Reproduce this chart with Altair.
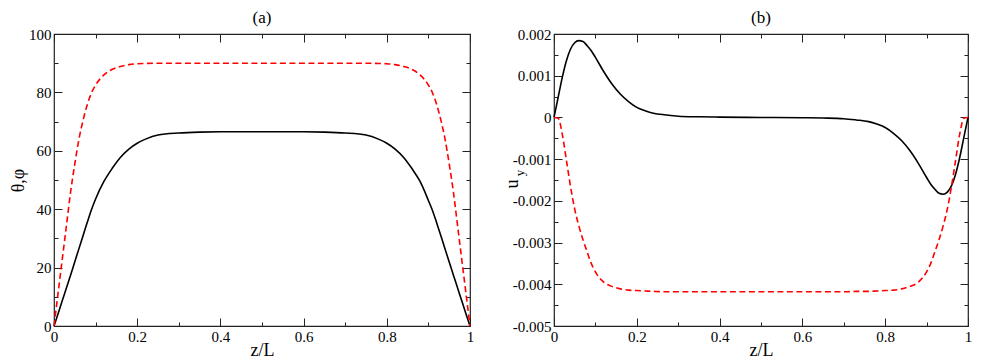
import altair as alt
import pandas as pd

# ---------- data ----------
# panel (a)
z_a = [0, 0.01, 0.02, 0.03, 0.04, 0.05, 0.06, 0.07, 0.08, 0.09, 0.10, 0.12, 0.14, 0.16,
       0.18, 0.20, 0.22, 0.25, 0.30, 0.35, 0.40, 0.50, 0.60, 0.65, 0.70, 0.75, 0.78,
       0.80, 0.82, 0.84, 0.86, 0.88, 0.90, 0.91, 0.92, 0.93, 0.94, 0.95, 0.96, 0.97,
       0.98, 0.99, 1.0]
theta = [0, 4.3, 8.7, 13.1, 17.5, 22.0, 26.5, 31.0, 35.5, 39.8, 43.5, 49.5, 54.0, 57.8,
         60.6, 62.6, 64.0, 65.4, 66.1, 66.4, 66.5, 66.5, 66.5, 66.4, 66.1, 65.4, 64.0,
         62.6, 60.6, 57.8, 54.0, 49.5, 43.0, 39.5, 35.3, 30.9, 26.4, 21.9, 17.5, 13.1,
         8.7, 4.3, 0]
phi = [0, 11.5, 23.0, 34.5, 46.0, 55.5, 64.0, 70.5, 75.8, 79.8, 82.5, 86.0, 87.9, 88.9,
       89.5, 89.8, 89.9, 90.0, 90.0, 90.0, 90.0, 90.0, 90.0, 90.0, 90.0, 90.0, 89.9,
       89.8, 89.5, 88.9, 87.9, 86.0, 82.5, 79.8, 75.8, 70.5, 64.0, 55.5, 46.0, 34.5,
       23.0, 11.5, 0]

# panel (b)
z_b = [0, 0.01, 0.02, 0.03, 0.04, 0.05, 0.06, 0.07, 0.08, 0.09, 0.10, 0.12, 0.14, 0.16,
       0.18, 0.20, 0.22, 0.24, 0.27, 0.30, 0.35, 0.40, 0.50, 0.60, 0.65, 0.70, 0.73,
       0.76, 0.78, 0.80, 0.82, 0.84, 0.86, 0.88, 0.90, 0.91, 0.92, 0.93, 0.94, 0.95,
       0.96, 0.97, 0.98, 0.99, 1.0]
u_black = [0, 0.00048, 0.00096, 0.00136, 0.00164, 0.00179, 0.00184, 0.00182, 0.00172,
           0.00160, 0.00144, 0.00110, 0.00080, 0.00056, 0.00038, 0.00024, 0.00016,
           0.00010, 0.00006, 0.00003, 0.000015, 0.000008, 0.0, -0.000008, -0.000015,
           -0.00003, -0.00006, -0.00010, -0.00016, -0.00024, -0.00038, -0.00056,
           -0.00080, -0.00110, -0.00144, -0.00160, -0.00172, -0.00182, -0.00184,
           -0.00179, -0.00164, -0.00136, -0.00096, -0.00048, 0]
u_red = [0, -0.00002, -0.00040, -0.00103, -0.00166, -0.00220, -0.00260, -0.00293,
         -0.00322, -0.00350, -0.00370, -0.00395, -0.00405, -0.00411, -0.00414, -0.00415,
         -0.00416, -0.00417, -0.00418, -0.00418, -0.00418, -0.00418, -0.00418, -0.00418,
         -0.00418, -0.00418, -0.00417, -0.00417, -0.00416, -0.00415, -0.00414, -0.00411,
         -0.00405, -0.00395, -0.00370, -0.00350, -0.00322, -0.00293, -0.00260, -0.00220,
         -0.00166, -0.00103, -0.00040, -0.00002, 0]

x_major = [0, 0.2, 0.4, 0.6, 0.8, 1]
x_minor = [0.1, 0.3, 0.5, 0.7, 0.9]
ya_major = [0, 20, 40, 60, 80, 100]
ya_minor = [10, 30, 50, 70, 90]
yb_major = [-0.005, -0.004, -0.003, -0.002, -0.001, 0, 0.001, 0.002]
yb_minor = [-0.0045, -0.0035, -0.0025, -0.0015, -0.0005, 0.0005, 0.0015]
panel_titles = ["(a)", "(b)"]

df_a = pd.DataFrame({"z": z_a, "theta": theta, "phi": phi})
df_b = pd.DataFrame({"z": z_b, "black": u_black, "red": u_red})

FONT = "Liberation Serif"
TICK = "#222222"
LBL = "'' + datum.value"
H = 292


def tick_axis(orient, values, size):
    return alt.Axis(orient=orient, values=values, tickSize=size, offset=-size,
                    labels=False, domain=False, grid=False, title=None,
                    tickColor=TICK, tickWidth=1, minExtent=0, maxExtent=0)


def label_axis(orient, values, title, pad, **kw):
    return alt.Axis(orient=orient, values=values, tickSize=8, offset=-8,
                    labelPadding=pad, domain=False, grid=False, title=title,
                    tickColor=TICK, tickWidth=1, labelExpr=LBL,
                    labelFont=FONT, labelFontSize=15, labelColor="black",
                    titleFont=FONT, titleFontSize=18, titleFontWeight="normal",
                    titleColor="black", minExtent=0,
                    labelOverlap=False, labelFlush=False, labelBound=False, **kw)


def text_layer(txt, x, y, size, angle=0):
    kw = dict(font=FONT, fontSize=size, baseline="middle", align="center", color="black")
    if angle:
        kw["angle"] = angle
    return alt.Chart(pd.DataFrame({"t": [txt]})).mark_text(**kw).encode(
        text="t:N", x=alt.value(x), y=alt.value(y))


def panel(df, ycol_black, ycol_red, ydom, ymaj, ymin, ytitle, ptitle, w, extra=None):
    xs = alt.Scale(domain=[0, 1], nice=False, zero=False)
    ys = alt.Scale(domain=ydom, nice=False, zero=False)
    base = alt.Chart(df)

    l1 = base.mark_line(color="black", strokeWidth=1.6, interpolate="monotone").encode(
        x=alt.X("z:Q", scale=xs,
                axis=label_axis("bottom", x_major, "z/L", 3, titlePadding=-3)),
        y=alt.Y(f"{ycol_black}:Q", scale=ys,
                axis=label_axis("left", ymaj, ytitle, 3, titlePadding=1)),
    )
    l2 = base.mark_line(color="#ff0000", strokeWidth=1.6, strokeDash=[6, 3.5],
                        interpolate="monotone").encode(
        x=alt.X("z:Q", scale=xs, axis=tick_axis("bottom", x_minor, 4)),
        y=alt.Y(f"{ycol_red}:Q", scale=ys, axis=tick_axis("left", ymin, 4)),
    )
    l3 = base.mark_line(opacity=0).encode(
        x=alt.X("z:Q", scale=xs, axis=tick_axis("top", x_major, 8)),
        y=alt.Y(f"{ycol_black}:Q", scale=ys, axis=tick_axis("right", ymaj, 8)),
    )
    l4 = base.mark_line(opacity=0).encode(
        x=alt.X("z:Q", scale=xs, axis=tick_axis("top", x_minor, 4)),
        y=alt.Y(f"{ycol_black}:Q", scale=ys, axis=tick_axis("right", ymin, 4)),
    )
    layers = [l1, l2, l3, l4, text_layer(ptitle, w / 2, -16, 17)]
    if extra is not None:
        layers += extra
    return alt.layer(*layers).resolve_axis(x="independent", y="independent").properties(
        width=w, height=H)


u_txt = text_layer("u", -41, H / 2 + 4, 18, 270)
y_txt = text_layer("y", -34, H / 2 - 7, 13, 270)

pa = panel(df_a, "theta", "phi", [0, 100], ya_major, ya_minor, "θ,φ", panel_titles[0], 416)
pb = panel(df_b, "black", "red", [-0.005, 0.002], yb_major, yb_minor, None, panel_titles[1],
           414, extra=[u_txt, y_txt])

chart = alt.hconcat(pa, pb, spacing=84, bounds="flush").properties(
    padding={"left": 0, "top": 0, "right": 0, "bottom": 0}
).configure_view(stroke="#222222", strokeWidth=1.2)

chart.save("out.html", embed_options={"renderer": "svg", "actions": False})
